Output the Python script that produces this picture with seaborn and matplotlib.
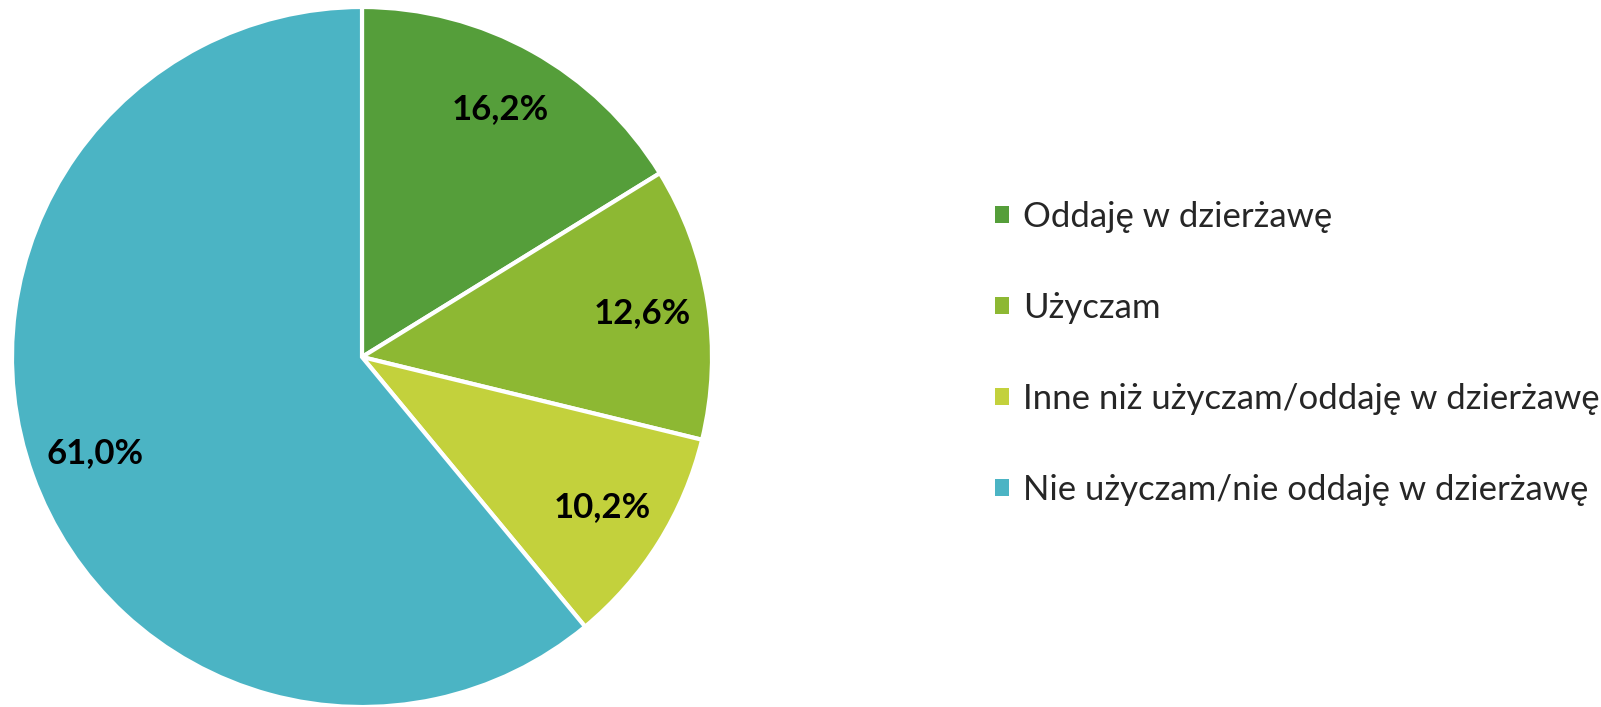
import matplotlib
matplotlib.use('Agg')
import matplotlib.pyplot as plt
import seaborn as sns
from matplotlib.patches import Patch

# Dane
categories = ['Oddaję w dzierżawę', 'Użyczam', 'Inne niż użyczam/oddaję w dzierżawę',
              'Nie użyczam/nie oddaję w dzierżawę']
shares = [16.2, 12.6, 10.2, 61.0]
colors = ['#559E3A', '#8DB833', '#C3D13C', '#4BB4C4']

sns.set_theme(style='white')
plt.rcParams['font.family'] = ['Lato', 'DejaVu Sans']

fig = plt.figure(figsize=(16.01, 7.07), dpi=100)
ax = fig.add_axes([12 / 1601, 0, 700 / 1601, 700 / 707])

wedges, texts, autotexts = ax.pie(
    shares, colors=colors, startangle=90, counterclock=False,
    autopct=lambda p: f'{p:.1f}%'.replace('.', ','), pctdistance=0.81,
    wedgeprops={'edgecolor': 'white', 'linewidth': 3},
    textprops={'fontsize': 25, 'fontweight': 'bold', 'color': 'black'},
    radius=1.0)
ax.set_xlim(-1, 1)
ax.set_ylim(-1, 1)
ax.set_aspect('equal')

handles = [Patch(facecolor=c, edgecolor='none') for c in colors]
fig.legend(handles, categories, loc='center left', bbox_to_anchor=(995 / 1601, 0.5),
           frameon=False, fontsize=25, handlelength=0.4, handleheight=0.4,
           handletextpad=0.4, labelspacing=1.7, borderpad=0, borderaxespad=0)

fig.savefig('out.png', dpi=100)
